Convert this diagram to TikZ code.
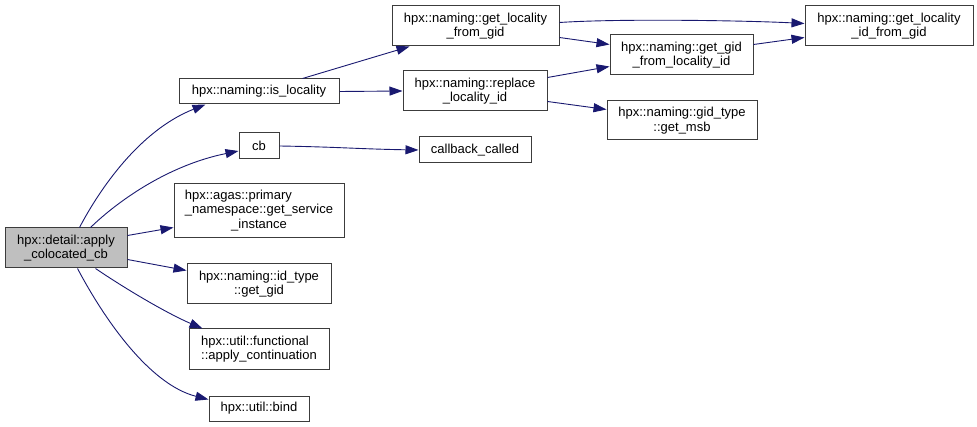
\documentclass[tikz,border=0pt]{standalone}
\usepackage{fontspec}
\setmainfont{Liberation Sans}
\usetikzlibrary{arrows.meta,calc}
\definecolor{edgec}{RGB}{25,25,112}
\definecolor{boxc}{RGB}{60,60,60}
\definecolor{mainfill}{RGB}{191,191,191}
\begin{document}
\begin{tikzpicture}[x=1pt,y=-1pt,
  fn/.style={draw=boxc, line width=1pt, fill=white, inner sep=0pt, align=center,
             font=\fontsize{13}{14.7}\selectfont},
  call/.style={draw=edgec, line width=0.9pt, -{Triangle[length=13pt,width=9pt]}}]
\useasboundingbox (0,0) rectangle (977,427);

\node[fn, fill=mainfill, minimum width=122, minimum height=40] (main) at (66,248) {hpx::detail::apply\\\_colocated\_cb};
\node[fn, minimum width=160, minimum height=25] (isloc) at (259,91.5) {hpx::naming::is\_locality};
\node[fn, minimum width=167, minimum height=40] (getloc) at (475.5,26) {hpx::naming::get\_locality\\\_from\_gid};
\node[fn, minimum width=144, minimum height=40] (replace) at (475,91) {hpx::naming::replace\\\_locality\_id};
\node[fn, minimum width=40, minimum height=26] (cb) at (259,146) {cb};
\node[fn, minimum width=112, minimum height=26] (callback) at (475,150) {callback\_called};
\node[fn, minimum width=170, minimum height=54] (primary) at (259,211) {\begin{tabular}{@{}l@{}}hpx::agas::primary\\\_namespace::get\_service\\\multicolumn{1}{@{}c@{}}{\_instance}\end{tabular}};
\node[fn, minimum width=144, minimum height=40] (idtype) at (259,284) {hpx::naming::id\_type\\::get\_gid};
\node[fn, minimum width=140, minimum height=41] (functional) at (259,349.5) {\begin{tabular}{@{}l@{}}hpx::util::functional\\::apply\_continuation\end{tabular}};
\node[fn, minimum width=100, minimum height=25] (bind) at (259,408.5) {hpx::util::bind};
\node[fn, minimum width=168, minimum height=40] (getlocid) at (889,26) {hpx::naming::get\_locality\\\_id\_from\_gid};
\node[fn, minimum width=143, minimum height=40] (gidfrom) at (681.5,55) {hpx::naming::get\_gid\\\_from\_locality\_id};
\node[fn, minimum width=150, minimum height=39] (msb) at (682,120.5) {hpx::naming::gid\_type\\::get\_msb};

% edges from main
\draw[call] ($(main.north west)+(75,0)$) .. controls ($(main.north west)+(95,-38)$) and ($(isloc.south west)+(-39,26)$) .. ($(isloc.south west)+(27,0)$);
\draw[call] ($(main.north west)+(86,0)$) .. controls ($(main.north west)+(115,-28)$) and ($(cb.west)+(-69,19)$) .. ($(cb.west)+(0,5)$);
\draw[call] ($(main.north east)+(0,8)$) -- ($(primary.south west)+(0,-11)$);
\draw[call] ($(main.north east)+(0,32)$) -- ($(idtype.north west)+(0,7)$);
\draw[call] ($(main.south west)+(91,0)$) .. controls ($(main.south west)+(125,23)$) and ($(functional.north west)+(-19,-14)$) .. ($(functional.north west)+(14,0)$);
\draw[call] ($(main.south west)+(73,0)$) .. controls ($(main.south west)+(100,51)$) and ($(bind.north west)+(-59,-11)$) .. ($(bind.north west)+(0,4)$);

% second level
\draw[call] ($(isloc.north west)+(124,0)$) -- ($(getloc.south west)+(18,0)$);
\draw[call] (isloc.east) -- (replace.west);
\draw[call] (cb.east) .. controls ($(cb.east)+(60,1)$) and ($(callback.west)+(-60,-1)$) .. (callback.west);

% third level
\draw[call] ($(getloc.north east)+(0,17)$) .. controls ($(getloc.north east)+(60,13)$) and ($(getlocid.north west)+(-60,15)$) .. ($(getlocid.north west)+(0,18)$);
\draw[call] ($(getloc.north east)+(0,32)$) -- ($(gidfrom.north west)+(0,10)$);
\draw[call] ($(replace.north east)+(0,7)$) -- ($(gidfrom.north west)+(0,32)$);
\draw[call] ($(replace.north east)+(0,31)$) -- ($(msb.north west)+(0,9)$);
\draw[call] ($(gidfrom.north east)+(0,10)$) -- ($(getlocid.north west)+(0,32)$);
\end{tikzpicture}
\end{document}
